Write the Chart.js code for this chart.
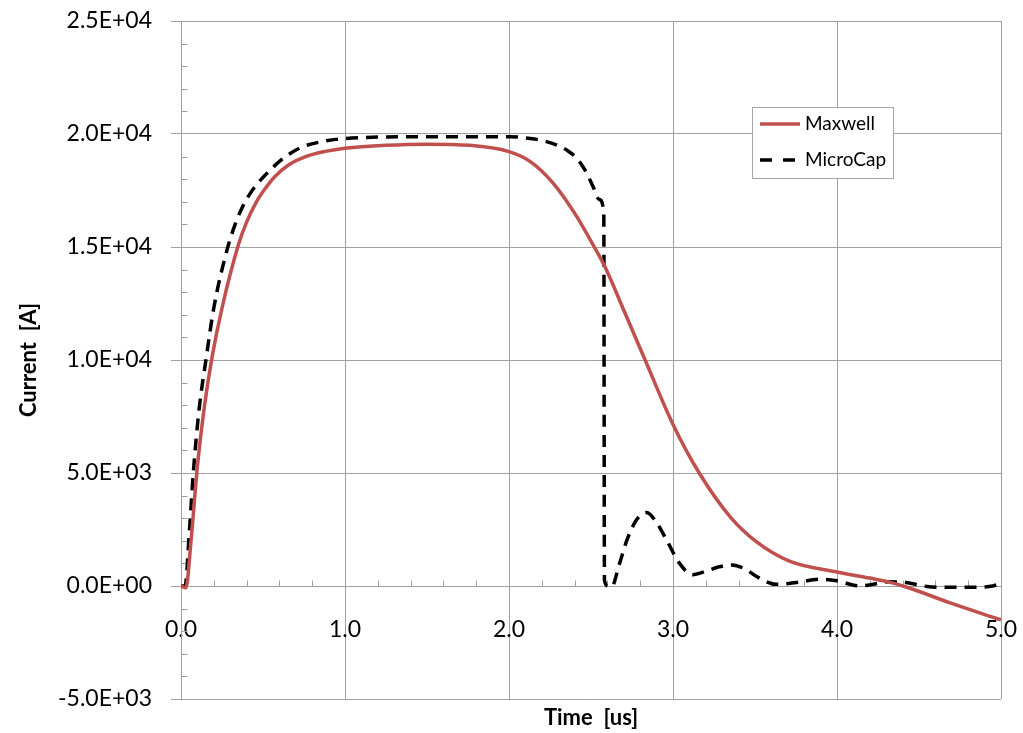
<!DOCTYPE html>
<html>
<head>
<meta charset="utf-8">
<script src="https://cdn.jsdelivr.net/npm/chart.js@4/dist/chart.umd.min.js"></script>
<style>
  html, body { margin: 0; padding: 0; background: #ffffff; }
  #wrap { width: 1023px; height: 733px; }
</style>
</head>
<body>
<div id="wrap"><canvas id="c" width="1023" height="733"></canvas></div>
<script>
// ---- data (time in us, current in A) ----
const seriesNames = ['Maxwell', 'MicroCap'];

const tMaxwell = [0, 0.03, 0.06, 0.1, 0.14, 0.19, 0.25, 0.35, 0.4, 0.46, 0.52, 0.57, 0.66, 0.76, 0.88, 1.0, 1.25, 1.5, 1.76, 2.0, 2.13, 2.27, 2.4, 2.52, 2.59, 2.7, 2.83, 3.0, 3.16, 3.35, 3.51, 3.71, 4.0, 4.2, 4.32, 4.45, 4.69, 5.0];
const iMaxwell = [0, -80, 1900, 5300, 7800, 10150, 12300, 15100, 16100, 17000, 17650, 18100, 18650, 19000, 19230, 19370, 19500, 19550, 19500, 19220, 18780, 17820, 16500, 15000, 14050, 12200, 10000, 7150, 5000, 3050, 1950, 1100, 620, 350, 170, -110, -750, -1500];

const tMicroCap = [0, 0.025, 0.05, 0.075, 0.11, 0.152, 0.2, 0.278, 0.33, 0.38, 0.42, 0.46, 0.55, 0.634, 0.73, 0.85, 1.0, 1.48, 2.0, 2.13, 2.22, 2.3, 2.36, 2.41, 2.45, 2.48, 2.514, 2.55, 2.578, 2.582, 2.605, 2.626, 2.67, 2.72, 2.78, 2.84, 2.9, 2.96, 3.04, 3.12, 3.2, 3.28, 3.36, 3.44, 3.51, 3.63, 3.75, 3.9, 4.0, 4.14, 4.25, 4.32, 4.42, 4.55, 4.7, 4.85, 4.95, 5.0];
const iMicroCap = [0, 0, 2300, 5000, 7800, 10000, 12300, 14800, 16000, 16850, 17350, 17750, 18450, 18980, 19400, 19650, 19800, 19880, 19880, 19800, 19680, 19480, 19250, 18950, 18560, 18180, 17650, 17100, 16550, 250, 0, -40, 900, 2050, 2950, 3250, 2800, 2050, 1000, 500, 650, 850, 930, 750, 420, 75, 150, 300, 230, 0, 120, 190, 150, -20, -60, -50, 0, 130];

const xTickValues = [0, 1, 2, 3, 4, 5];
const xTickLabels = ['0.0', '1.0', '2.0', '3.0', '4.0', '5.0'];
const yTickValues = [-5000, 0, 5000, 10000, 15000, 20000, 25000];
const yTickLabels = ['-5.0E+03', '0.0E+00', '5.0E+03', '1.0E+04', '1.5E+04', '2.0E+04', '2.5E+04'];

const xTitle = 'Time  [us]';
const yTitle = 'Current  [A]';

// ---- styles ----
const gridColor = '#a0a0a0';
const maxwellColor = '#c0504d';
const microCapColor = '#000000';
const tickFont = { family: 'Lato', size: 23 };
const titleFont = { family: 'Lato', size: 22, weight: 'bold' };

function toPoints(ts, vs) { return ts.map((t, i) => ({ x: t, y: vs[i] })); }
function zeroPad(s) { s.paddingLeft = 0; s.paddingRight = 0; s.paddingTop = 0; s.paddingBottom = 0; }

const minorTicks = {
  id: 'minorTicks',
  beforeDatasetsDraw(chart) {
    const { ctx, scales: { x, y } } = chart;
    const x0 = Math.round(x.getPixelForValue(0)) + 0.5;
    const y0 = Math.round(y.getPixelForValue(0)) + 0.5;
    ctx.save();
    ctx.strokeStyle = gridColor;
    ctx.lineWidth = 1;
    ctx.beginPath();
    for (let v = -5000; v <= 25000; v += 1000) {
      if (v % 5000 === 0) continue;
      const py = Math.round(y.getPixelForValue(v)) + 0.5;
      ctx.moveTo(x0, py); ctx.lineTo(x0 + 6, py);
    }
    for (let k = 1; k < 25; k++) {
      if (k % 5 === 0) continue;
      const px = Math.round(x.getPixelForValue(k * 0.2)) + 0.5;
      ctx.moveTo(px, y0); ctx.lineTo(px, y0 - 6);
    }
    ctx.stroke();
    ctx.restore();
  }
};

const boxLegend = {
  id: 'boxLegend',
  afterDraw(chart) {
    const ctx = chart.ctx;
    const bx = 752.5, by = 107.5, bw = 141, bh = 71;
    ctx.save();
    ctx.fillStyle = '#ffffff';
    ctx.fillRect(bx, by, bw, bh);
    ctx.strokeStyle = '#a6a6a6';
    ctx.lineWidth = 1;
    ctx.strokeRect(bx, by, bw, bh);
    const rows = [124, 160];
    chart.data.datasets.forEach((ds, i) => {
      const yy = rows[i];
      ctx.beginPath();
      ctx.strokeStyle = ds.borderColor;
      ctx.lineWidth = ds.borderWidth;
      ctx.setLineDash(i === 1 ? [12, 11] : []);
      ctx.moveTo(760, yy); ctx.lineTo(i === 1 ? 796 : 800, yy);
      ctx.stroke();
      ctx.setLineDash([]);
      ctx.fillStyle = '#000000';
      ctx.font = '19px Lato';
      ctx.textBaseline = 'middle';
      ctx.textAlign = 'left';
      ctx.fillText(ds.label, 805, yy);
    });
    ctx.restore();
  }
};

new Chart(document.getElementById('c'), {
  type: 'line',
  data: {
    datasets: [
      {
        label: seriesNames[0],
        data: toPoints(tMaxwell, iMaxwell),
        borderColor: maxwellColor,
        backgroundColor: maxwellColor,
        borderWidth: 3.5,
        pointRadius: 0,
        cubicInterpolationMode: 'monotone',
        fill: false
      },
      {
        label: seriesNames[1],
        data: toPoints(tMicroCap, iMicroCap),
        borderColor: microCapColor,
        backgroundColor: microCapColor,
        borderWidth: 3.5,
        borderDash: [12, 8],
        pointRadius: 0,
        cubicInterpolationMode: 'monotone',
        fill: false
      }
    ]
  },
  options: {
    responsive: false,
    animation: false,
    devicePixelRatio: 1,
    layout: { padding: { left: 12, top: 21, right: 22, bottom: 0 } },
    plugins: { legend: { display: false }, tooltip: { enabled: false } },
    scales: {
      x: {
        type: 'linear',
        position: { y: 0 },
        min: 0, max: 5,
        afterBuildTicks: (s) => { s.ticks = xTickValues.map(v => ({ value: v })); },
        afterFit: zeroPad,
        ticks: {
          font: tickFont, color: '#000000', padding: 30, maxRotation: 0,
          callback: (v, i) => xTickLabels[i]
        },
        grid: { color: gridColor, lineWidth: 1, drawTicks: false },
        border: { display: true, color: gridColor, width: 1 },
        title: { display: false }
      },
      x2: {
        type: 'linear',
        position: 'bottom',
        min: 0, max: 5,
        afterFit: (s) => { s.height = 34; zeroPad(s); },
        ticks: { display: false },
        grid: { display: false, drawTicks: false },
        border: { display: false },
        title: { display: true, text: xTitle, font: titleFont, color: '#000000', padding: { top: 0, bottom: 2 } }
      },
      y: {
        type: 'linear',
        position: 'left',
        min: -5000, max: 25000,
        afterBuildTicks: (s) => { s.ticks = yTickValues.map(v => ({ value: v })); },
        afterFit: (s) => { s.width = 169; zeroPad(s); },
        ticks: {
          font: tickFont, color: '#000000', padding: 19,
          callback: (v, i) => yTickLabels[i]
        },
        grid: { color: gridColor, lineWidth: 1, drawTicks: true, tickLength: 10 },
        border: { display: true, color: gridColor, width: 1 },
        title: { display: true, text: yTitle, font: titleFont, color: '#000000', padding: { top: 4, bottom: 0 } }
      }
    }
  },
  plugins: [minorTicks, boxLegend]
});
</script>
</body>
</html>
